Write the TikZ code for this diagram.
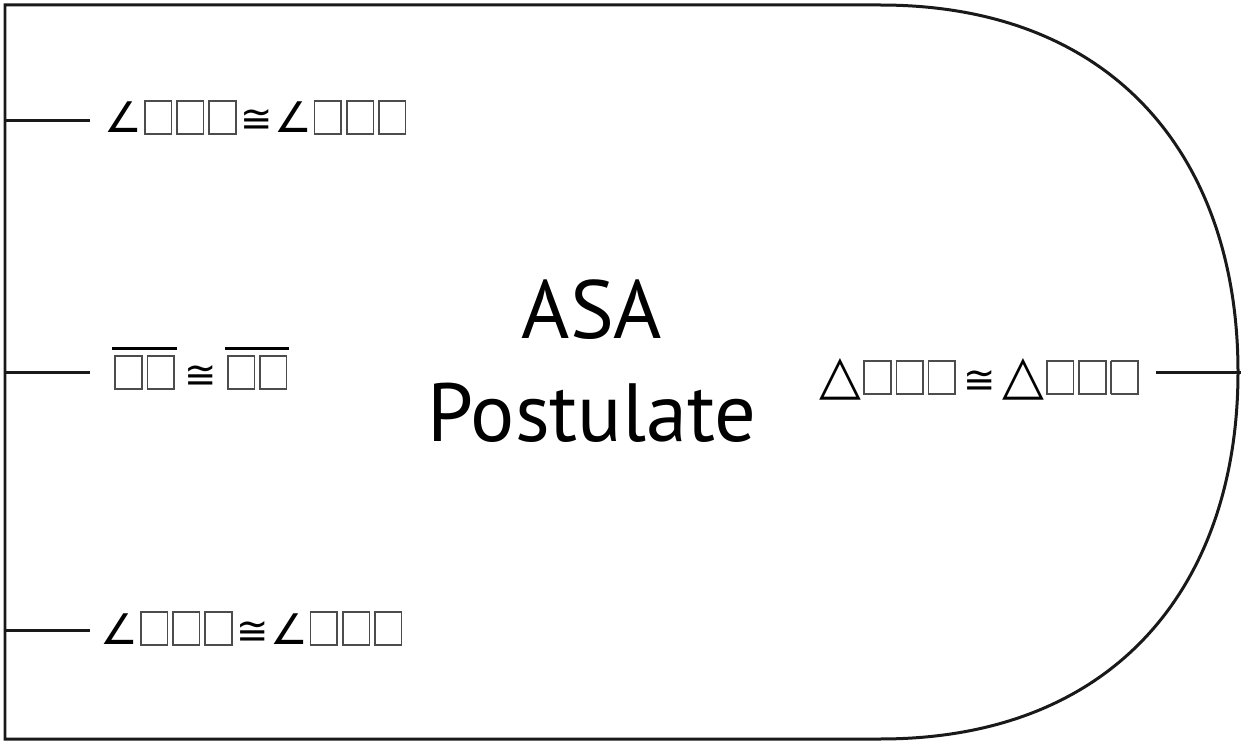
\documentclass[tikz,border=0pt]{standalone}
\usepackage{fontspec}
\setmainfont{PT Sans}
\newfontfamily\symfont{DejaVu Sans}
\usetikzlibrary{positioning}
\setlength{\fboxsep}{0pt}
\setlength{\fboxrule}{0.9pt}
\newcommand{\tofu}{\kern0.04cm{\color{black!70}\fbox{\rule{0pt}{0.63cm}\rule{0.5cm}{0pt}}}\kern0.04cm}
\newcommand{\segm}[1]{\vbox{\hrule height 1.7pt\kern 0.1cm\hbox{#1}}}
\newcommand{\angsym}{{\symfont\fontsize{24}{28}\selectfont ∠}}
\newcommand{\congsym}{{\symfont ≅}}
\newcommand{\trisym}{{\symfont\fontsize{31}{34}\selectfont △}}

\begin{document}
\begin{tikzpicture}[
  x=0.02cm, y=-0.02cm,
  outline/.style={line width=0.06cm, black!90},
  branch/.style={inner sep=0pt, font=\fontsize{22}{26}\selectfont},
  title/.style={align=center, font=\fontsize{47}{58.6}\selectfont}
]
\useasboundingbox (0,0) rectangle (1241,743);

% Outline
\draw[outline] (880,5) -- (5,5) -- (5,739) -- (880,739)
  .. controls (1120,739) and (1238,580) .. (1238,372)
  .. controls (1238,164) and (1120,5) .. (880,5);

% Nodes
\node[title] (asa) at (592,361) {ASA\\Postulate};

\coordinate (p1) at (5,121);
\coordinate (p2) at (5,372);
\coordinate (p3) at (5,630);
\coordinate (q) at (1241,372);

\node[branch, anchor=base west] (t1) at (104,133) {\angsym\tofu\tofu\tofu\kern0.04cm\congsym\kern0.02cm\angsym\tofu\tofu\tofu};
\node[branch, anchor=base west] (t2) at (112,388) {\segm{\tofu\tofu}\kern0.16cm\congsym\kern0.16cm\segm{\tofu\tofu}};
\node[branch, anchor=base west] (t3) at (100,644) {\angsym\tofu\tofu\tofu\kern0.04cm\congsym\kern0.02cm\angsym\tofu\tofu\tofu};
\node[branch, anchor=base east] (t4) at (1141,393) {\trisym\tofu\tofu\tofu\kern0.12cm\congsym\kern0.12cm\trisym\tofu\tofu\tofu};

% Lines
\draw[outline] (p1) -- ([xshift=-0.28cm]t1.west |- p1);
\draw[outline] (p2) -- ([xshift=-0.45cm]t2.west |- p2);
\draw[outline] (p3) -- ([xshift=-0.2cm]t3.west |- p3);
\draw[outline] ([xshift=0.3cm]t4.east |- q) -- (q);
\end{tikzpicture}
\end{document}
